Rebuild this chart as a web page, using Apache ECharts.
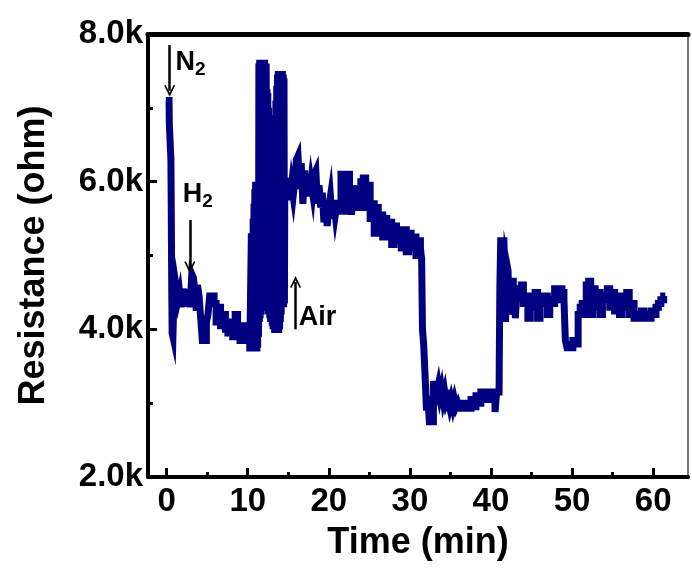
<!DOCTYPE html>
<html>
<head>
<meta charset="utf-8">
<script src="https://cdn.jsdelivr.net/npm/echarts@6/dist/echarts.min.js"></script>
<style>
html,body{margin:0;padding:0;background:#fff;}
#chart{width:692px;height:568px;}
</style>
</head>
<body>
<div id="chart"></div>
<script>
// ---- data (time in min, resistance in ohm) ----
var segmentN2 = [
  [-0.1,7100],[0.3,7100],[0.35,6800],[0.5,6800],[0.55,6300],[0.6,5500],[0.65,4600],[0.7,3950],[0.85,3900],
  [0.95,4450],[1.1,4300],[1.3,4550],[1.5,4400],[1.7,4500],[1.9,4300],[2.1,4550],[2.3,4350],[2.6,4400],
  [2.8,4550],[3.0,4300],[3.2,4750],[3.4,4700],[3.6,4500],[3.7,4250],[3.9,4600],[4.1,4450],[4.3,4150],
  [4.5,3850],[4.8,3850],[5.0,4100],[5.2,4200],[5.4,4450],[5.7,4450],[6.0,4350],[6.2,4100],[6.5,4300],
  [6.8,4050],[7.1,4200],[7.4,4000],[7.7,3950],[8.0,4100],[8.3,3900],[8.6,4200],[8.9,3950],[9.2,3850],
  [9.5,4050],[9.8,3850],[10.1,4000],[10.4,3700]
];
var segmentSwitch = [
  [10.5,5300],[10.55,3900],[10.6,5300],[10.65,3850],[10.7,5500],[10.75,3800],[10.8,5700],[10.85,3750],
  [10.9,5900],[10.95,3750],[11.0,6000],[11.05,3700],[11.1,6000],[11.15,3700],[11.2,6000],[11.25,3750],
  [11.3,6000],[11.35,3900],[11.4,7600],[11.45,4100],[11.5,7650],[11.55,4150],[11.6,7650],[11.65,4200],
  [11.7,7650],[11.75,4250],[11.8,7650],[11.85,4300],[11.9,7650],[11.95,4250],[12.0,7650],[12.05,4300],
  [12.1,7650],[12.15,4250],[12.2,7600],[12.25,4250],[12.3,7600],[12.35,4250],[12.4,7250],[12.45,4250],
  [12.5,7200],[12.55,4200],[12.6,7000],[12.65,4200],[12.7,6700],[12.75,4150],[12.8,6650],[12.85,4100],
  [12.9,6650],[12.95,4100],[13.0,6650],[13.05,4050],[13.1,6650],[13.15,4000],[13.2,6650],[13.25,4000],
  [13.3,6700],[13.35,3950],[13.4,6900],[13.45,3950],[13.5,7100],[13.55,3950],[13.6,7300],[13.65,3950],
  [13.7,7450],[13.75,3950],[13.8,7500],[13.85,3950],[13.9,7500],[13.95,4000],[14.0,7500],[14.05,4100],
  [14.1,7500],[14.15,4200],[14.2,7500],[14.25,4300],[14.3,7500],[14.35,4300],[14.4,7450],[14.45,4300],
  [14.5,7400],[14.55,4350],[14.6,6000]
];
var segmentAir = [
  [14.7,5950],[14.9,5800],[15.1,6050],[15.3,5750],[15.5,5950],[15.7,5800],[15.9,6000],[16.1,6300],
  [16.3,6350],[16.5,5900],[16.7,6250],[16.9,5700],[17.1,6150],[17.3,5850],[17.5,6100],[17.7,5800],
  [17.9,6000],[18.1,5850],[18.3,6100],[18.5,6150],[18.7,5700],[18.9,5950],[19.1,5650],[19.3,5850],
  [19.5,5450],[19.7,5750],[19.9,5400],[20.1,5650],[20.3,5800],[20.5,5500],[20.7,5750],[20.9,5550],
  [21.1,5700],[21.4,5600],[21.6,6100],[21.9,6100],[22.1,5600],[22.4,6100],[22.7,5700],[22.9,5550],
  [23.1,5950],[23.3,5700],[23.6,5900],[23.8,5650],[24.1,6000],[24.4,6050],[24.7,5650],[25.0,5950],
  [25.2,5500],[25.5,5700],[25.7,5300],[26.0,5650],[26.2,5350],[26.5,5550],[26.8,5250],[27.0,5500],
  [27.3,5300],[27.6,5450],[27.9,5150],[28.2,5400],[28.5,5200],[28.8,5350],[29.1,5100],[29.4,5350],
  [29.7,5050],[30.0,5300],[30.3,5100],[30.6,5250],[30.9,5000],[31.2,5200]
];
var segmentLow = [
  [31.4,5100],[31.5,4950],[31.6,4000],[31.8,3800],[32.0,3300],[32.1,2900],[32.3,3100],[32.5,2750],
  [32.8,2750],[33.0,3300],[33.1,3150],[33.2,3300],[33.4,3150],[33.6,3250],[33.8,3100],[34.0,3200],
  [34.2,3050],[34.4,3150],[34.6,3000],[34.8,3050],[35.0,2950],[35.2,3050],[35.4,2950],[35.6,3050],
  [35.8,2950],[36.0,3000],[36.2,2930],[36.5,3000],[36.8,2930],[37.1,3000],[37.4,2930],[37.7,3050],
  [38.0,2950],[38.3,3100],[38.6,3000],[38.9,3150],[39.2,3050],[39.5,3150],[39.8,3050],[40.1,3150],
  [40.4,3050],[40.6,2880],[40.8,3150]
];
var segmentEnd = [
  [41.0,3150],[41.05,3600],[41.15,4600],[41.25,5200],[41.6,5200],[41.75,4800],[41.85,4100],[42.0,4900],
  [42.2,4800],[42.4,4200],[42.6,4650],[42.9,4550],[43.1,4150],[43.3,4500],[43.6,4450],[43.9,4600],
  [44.1,4350],[44.4,4450],[44.7,4150],[45.0,4450],[45.3,4300],[45.6,4500],[45.9,4150],[46.2,4450],
  [46.5,4350],[46.8,4450],[47.1,4200],[47.4,4400],[47.7,4350],[48.0,4550],[48.3,4400],[48.6,4550],
  [48.9,4500],[49.1,4400],[49.25,3850],[49.5,3750],[49.9,3750],[50.3,3850],[50.6,3800],[50.9,4200],
  [51.1,4300],[51.4,4350],[51.6,4200],[51.9,4600],[52.2,4650],[52.4,4200],[52.7,4550],[53.0,4300],
  [53.3,4500],[53.6,4200],[53.9,4450],[54.2,4400],[54.5,4550],[54.8,4300],[55.1,4500],[55.4,4250],
  [55.7,4450],[56.0,4200],[56.3,4450],[56.6,4300],[56.9,4500],[57.2,4200],[57.5,4350],[57.8,4150],
  [58.1,4200],[58.4,4150],[58.7,4250],[59.0,4150],[59.3,4200],[59.6,4150],[59.9,4250],[60.2,4200],
  [60.5,4300],[60.8,4350],[61.1,4400],[61.5,4450]
];
var xMajorTicks = [0, 10, 20, 30, 40, 50, 60];
var xMinorTicks = [5, 15, 25, 35, 45, 55];
var yTickLabels = ['2.0k', '4.0k', '6.0k', '8.0k'];
var annotations = [
  { text: 'N', sub: '2', arrowX: 0.37, from: 7850, to: 7230, textX: 1.1, textY: 7610 },
  { text: 'H', sub: '2', arrowX: 2.86, from: 5480, to: 4840, textX: 2.0, textY: 5820 },
  { text: 'Air', sub: '', arrowX: 15.9, from: 4000, to: 4640, textX: 16.3, textY: 4160 }
];

var resistance = [].concat(segmentN2, segmentSwitch, segmentAir, segmentLow, segmentEnd);

var chart = echarts.init(document.getElementById('chart'), null, { renderer: 'canvas' });
var FONT = 'Liberation Sans';
var X_MIN = -2.3, X_MAX = 64.3;

var markLineData = annotations.map(function (a) {
  return [{ coord: [a.arrowX, a.from] }, { coord: [a.arrowX, a.to] }];
});
var markPointData = annotations.map(function (a) {
  return {
    coord: [a.textX, a.textY],
    label: {
      formatter: a.sub ? '{m|' + a.text + '}{s|' + a.sub + '}' : '{m|' + a.text + '}'
    }
  };
});

var option = {
  backgroundColor: '#fff',
  animation: false,
  grid: { left: 148, right: 4, top: 34, bottom: 91, containLabel: false, outerBoundsMode: 'none' },
  xAxis: [
    {
      type: 'value', min: X_MIN, max: X_MAX, position: 'bottom',
      axisLine: { show: true, onZero: false, lineStyle: { color: '#000', width: 4 } },
      axisTick: { show: true, inside: true, length: 9, customValues: xMajorTicks, lineStyle: { color: '#000', width: 3 } },
      axisLabel: { show: true, customValues: xMajorTicks, margin: 8, color: '#000', fontFamily: FONT, fontWeight: 'bold', fontSize: 33 },
      splitLine: { show: false },
      name: 'Time (min)', nameLocation: 'middle', nameGap: 48,
      nameTextStyle: { color: '#000', fontFamily: FONT, fontWeight: 'bold', fontSize: 36 }
    },
    {
      type: 'value', min: X_MIN, max: X_MAX, position: 'bottom',
      axisLine: { show: false, onZero: false },
      axisTick: { show: true, inside: true, length: 5, customValues: xMinorTicks, lineStyle: { color: '#000', width: 3 } },
      axisLabel: { show: false }, splitLine: { show: false }
    },
    {
      type: 'value', min: X_MIN, max: X_MAX, position: 'top',
      axisLine: { show: true, onZero: false, lineStyle: { color: '#000', width: 5 } },
      axisTick: { show: false }, axisLabel: { show: false }, splitLine: { show: false }
    }
  ],
  yAxis: [
    {
      type: 'value', min: 2000, max: 8000, interval: 2000, position: 'left',
      axisLine: { show: true, onZero: false, lineStyle: { color: '#000', width: 4 } },
      axisTick: { show: true, inside: true, length: 9, lineStyle: { color: '#000', width: 3 } },
      minorTick: { show: true, splitNumber: 2, length: 5, lineStyle: { color: '#000', width: 3 } },
      axisLabel: {
        margin: 5, color: '#000', fontFamily: FONT, fontWeight: 'bold', fontSize: 33,
        formatter: function (v) { return yTickLabels[Math.round((v - 2000) / 2000)]; }
      },
      splitLine: { show: false },
      name: 'Resistance (ohm)', nameLocation: 'middle', nameRotate: 90, nameGap: 96,
      nameTextStyle: { color: '#000', fontFamily: FONT, fontWeight: 'bold', fontSize: 36 }
    },
    {
      type: 'value', min: 2000, max: 8000, position: 'right',
      axisLine: { show: true, onZero: false, lineStyle: { color: '#777', width: 2 } },
      axisTick: { show: false }, axisLabel: { show: false }, splitLine: { show: false }
    }
  ],
  series: [
    {
      type: 'line', xAxisIndex: 0, yAxisIndex: 0,
      data: resistance, showSymbol: false, symbol: 'none', clip: true, step: 'middle',
      lineStyle: { color: '#000080', width: 7, join: 'miter' },
      markLine: {
        silent: true, symbol: ['none', 'path://M0,12 L6,0 L12,12 L10.5,12.8 L6,4.5 L1.5,12.8 Z'], symbolSize: [11, 12],
        lineStyle: { color: '#000', width: 2.5, type: 'solid' },
        label: { show: false },
        data: markLineData
      },
      markPoint: {
        silent: true, symbol: 'circle', symbolSize: 0,
        label: {
          show: true, position: 'right', distance: 0, color: '#000',
          rich: {
            m: { fontFamily: FONT, fontWeight: 'bold', fontSize: 27, color: '#000' },
            s: { fontFamily: FONT, fontWeight: 'bold', fontSize: 19, color: '#000', padding: [14, 0, 0, 0] }
          }
        },
        data: markPointData
      },
      z: 2
    }
  ]
};
chart.setOption(option);
</script>
</body>
</html>
